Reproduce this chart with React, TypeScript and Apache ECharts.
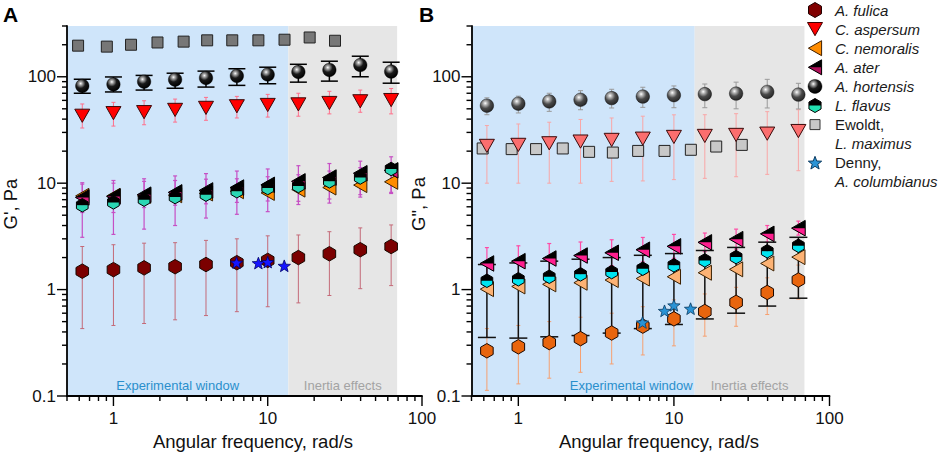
import React, { useEffect, useRef } from "react";
import * as echarts from "echarts";

const FONT = "'Liberation Sans', Arial, sans-serif";

// ---------- frequencies ----------
const FREQ = [0.628, 1, 1.58, 2.51, 3.98, 6.31, 10, 15.8, 25.1, 39.8, 63.1];
const EWOLDT_FREQ = [0.59, 0.906, 1.3, 1.93, 2.85, 4.05, 5.89, 8.7, 12.85, 18.7, 27.3];
const DENNY_FREQ = [6.28, 8.7, 10, 12.8];

// ---------- Panel A: G' ----------
const fulicaA = [1.49, 1.54, 1.6, 1.64, 1.72, 1.79, 1.88, 2.0, 2.17, 2.37, 2.54];
const fulicaA_lo = [0.43, 0.46, 0.48, 0.52, 0.57, 0.62, 0.69, 0.75, 0.88, 1.02, 1.09];
const fulicaA_hi = [2.54, 2.64, 2.73, 2.76, 2.9, 3.0, 3.2, 3.26, 3.5, 3.8, 4.05];
const aspersumA = [43, 45.5, 46.5, 48.8, 51, 52.8, 54.3, 55, 56.7, 58.8, 60.4];
const aspersumA_lo = [33, 34.4, 35.4, 37.5, 39, 41, 41.8, 42.6, 44.8, 46.4, 44.8];
const aspersumA_hi = [55.5, 57.5, 59.5, 61.7, 64, 65.4, 68.3, 70, 73, 75, 77.6];
const nemoralisA = [7.6, 7.6, 7.6, 7.7, 8.0, 8.4, 8.1, 8.7, 9.1, 9.6, 10.3];
const aterA = [7.35, 7.5, 7.8, 8.2, 8.55, 9.1, 9.65, 10.4, 11.3, 12.4, 13.2];
const aterA_lo = [5.3, 5.3, 5.9, 6.2, 6.4, 6.6, 6.8, 6.75, 7.1, 7.8, 8.2];
const aterA_hi = [10.1, 10.6, 11.0, 11.7, 12.3, 13.0, 13.6, 14.6, 15.3, 16.1, 17.7];
const flavusA = [6.2, 6.6, 7.0, 7.4, 7.8, 8.4, 9.0, 9.4, 10.4, 11.3, 13.6];
const flavusA_lo = [3.1, 3.3, 3.7, 4.0, 4.7, 5.1, 5.4, 6.3, 6.5, 7.4, 8.0];
const flavusA_hi = [9.8, 10.0, 10.4, 10.6, 10.9, 11.0, 11.5, 12.0, 13.0, 14.0, 15.0];
const hortensisA = [82, 85, 90, 94, 97.5, 102, 105, 111, 116, 129, 112];
const hortensisA_lo = [70, 72, 75, 78, 80, 83, 86, 89, 91, 100, 87];
const hortensisA_hi = [94.8, 99.6, 103, 108, 113, 119, 123, 131, 140, 156, 137];
const ewoldtA = [196, 192, 200, 210, 214, 220, 220, 220, 223, 234, 218];
const dennyA = [1.79, 1.77, 1.81, 1.67];

// ---------- Panel B: G'' ----------
const fulicaB = [0.266, 0.29, 0.318, 0.346, 0.391, 0.454, 0.531, 0.622, 0.759, 0.94, 1.23];
const fulicaB_lo = [0.113, 0.13, 0.147, 0.167, 0.2, 0.243, 0.296, 0.365, 0.452, 0.583, 0.815];
const fulicaB_hi = [0.43, 0.46, 0.5, 0.55, 0.6, 0.69, 0.8, 0.91, 1.05, 1.29, 1.7];
const aspersumB = [22.4, 22.9, 23.7, 24.6, 25.5, 26.2, 27.2, 27.8, 28.4, 29.2, 30.9];
const aspersumB_lo = [10, 10, 10, 10, 10.4, 10.5, 10.8, 11.1, 11.5, 12.1, 13.1];
const aspersumB_hi = [34.8, 36, 37.4, 39.7, 41, 42.6, 43.9, 44, 45, 47, 49];
const nemoralisB = [1.01, 1.07, 1.12, 1.16, 1.23, 1.27, 1.32, 1.44, 1.55, 1.76, 2.02];
const aterB = [1.76, 1.85, 1.96, 2.09, 2.22, 2.37, 2.55, 2.78, 2.98, 3.34, 3.78];
const aterB_lo = [1.25, 1.33, 1.42, 1.56, 1.68, 1.82, 1.97, 2.27, 2.4, 2.8, 3.25];
const aterB_hi = [2.48, 2.58, 2.71, 2.8, 2.94, 3.09, 3.3, 3.4, 3.7, 4.0, 4.4];
const flavusB = [1.21, 1.25, 1.32, 1.39, 1.46, 1.57, 1.69, 1.88, 2.02, 2.29, 2.58];
const flavusB_lo = [0.355, 0.35, 0.36, 0.37, 0.39, 0.43, 0.47, 0.53, 0.6, 0.7, 0.83];
const flavusB_hi = [1.72, 1.78, 1.85, 1.93, 2.0, 2.1, 2.18, 2.33, 2.49, 2.79, 3.1];
const hortensisB = [53.5, 55.9, 58.6, 60.8, 63, 65.2, 67.2, 68.7, 69.5, 72.1, 68];
const hortensisB_lo = [44, 45.7, 47.3, 49, 50.9, 51.6, 51.2, 51.2, 50, 50.9, 49.8];
const hortensisB_hi = [63.4, 65.7, 70, 74, 76.3, 79.7, 82, 85.5, 89, 94.6, 86.8];
const ewoldtB = [21.2, 20.9, 20.9, 21.2, 19.7, 19.4, 20.1, 20.1, 20.6, 22.1, 22.9];
const dennyB = [0.49, 0.63, 0.71, 0.66];

// ---------- axes / ticks / regions ----------
const X_RANGE = [0.5, 100];
const Y_RANGE = [0.1, 300];
const X_MAJOR = [1, 10, 100];
const X_MINOR = [0.5, 0.6, 0.7, 0.8, 0.9, 2, 3, 4, 5, 6, 7, 8, 9, 20, 30, 40, 50, 60, 70, 80, 90];
const Y_MAJOR = [0.1, 1, 10, 100];
const Y_MINOR = [0.2, 0.3, 0.4, 0.5, 0.6, 0.7, 0.8, 0.9, 2, 3, 4, 5, 6, 7, 8, 9, 20, 30, 40, 50, 60, 70, 80, 90, 200, 300];
const REGION_BOUNDS = [0.5, 13.6, 69];
const REGION_LABELS = ["Experimental window", "Inertia effects"];
const X_TITLE = "Angular frequency, rad/s";
const Y_TITLES = ["G', Pa", 'G", Pa'];
const PANEL_LETTERS = ["A", "B"];

const LEGEND = [
  { lines: [["i", "A. fulica"]], kind: "hex", size: 15, st: { fill: "#800000", stroke: "#200000" } },
  { lines: [["i", "C. aspersum"]], kind: "triDown", size: 15, st: { fill: "#ff0000", stroke: "#400000" } },
  { lines: [["i", "C. nemoralis"]], kind: "triLeft", size: 15, st: { fill: "#ff8c00", stroke: "#402000" } },
  { lines: [["i", "A. ater"]], kind: "triLeft", size: 15, st: { fill: "#000000", fill2: "#b0105a", stroke: "#000" } },
  { lines: [["i", "A. hortensis"]], kind: "sphere", size: 14, st: { fill: "black", stroke: "#000" } },
  { lines: [["i", "L. flavus"]], kind: "hex", size: 14, st: { fill: "#000000", fill2: "#22e0b0", stroke: "#000" } },
  { lines: [["n", "Ewoldt,"], ["i", "L. maximus"]], kind: "square", size: 10, st: { fill: "#c8c8c8", stroke: "#333" } },
  { lines: [["n", "Denny,"], ["i", "A. columbianus"]], kind: "star", size: 14, st: { fill: "#2a93d5", stroke: "#0a3a60" } },
];

type Sty = { fill: any; fill2?: string; stroke: string; lw?: number };

function sphereFill(tone: string) {
  const stops =
    tone === "gray"
      ? [
          { offset: 0, color: "#ffffff" },
          { offset: 0.18, color: "#bdbdbd" },
          { offset: 0.55, color: "#4a4a4a" },
          { offset: 1, color: "#262626" },
        ]
      : [
          { offset: 0, color: "#ffffff" },
          { offset: 0.15, color: "#b0b0b0" },
          { offset: 0.5, color: "#1a1a1a" },
          { offset: 1, color: "#000000" },
        ];
  return new echarts.graphic.RadialGradient(0.38, 0.32, 0.7, stops);
}

function marker(kind: string, cx: number, cy: number, s: number, st: Sty): any[] {
  const r = s / 2;
  const lw = st.lw ?? 1;
  const P = (pts: number[][]) => pts.map(([x, y]) => [cx + x, cy + y]);
  const poly = (pts: number[][], fill: any, stroke: string | null) => ({
    type: "polygon",
    shape: { points: P(pts) },
    style: { fill, stroke: stroke || "none", lineWidth: lw },
  });
  if (kind === "hex") {
    const a = r * 0.866;
    const full = [[0, -r], [a, -r / 2], [a, r / 2], [0, r], [-a, r / 2], [-a, -r / 2]];
    if (!st.fill2) return [poly(full, st.fill, st.stroke)];
    return [
      poly([[-a, 0.5], [-a, -r / 2], [0, -r], [a, -r / 2], [a, 0.5]], st.fill, null),
      poly([[-a, 0], [a, 0], [a, r / 2], [0, r], [-a, r / 2]], st.fill2, null),
      poly(full, "none", st.stroke),
    ];
  }
  if (kind === "triDown") {
    const h = s * 0.88;
    return [poly([[-r, -h / 2], [r, -h / 2], [0, h / 2]], st.fill, st.stroke)];
  }
  if (kind === "triLeft") {
    const w = s * 0.88;
    const full = [[-w / 2, 0], [w / 2, -r], [w / 2, r]];
    if (!st.fill2) return [poly(full, st.fill, st.stroke)];
    return [
      poly(full, st.fill, null),
      poly([[-w / 2, 0], [w / 2, 0], [w / 2, r]], st.fill2, null),
      poly(full, "none", st.stroke),
    ];
  }
  if (kind === "sphere") {
    return [
      {
        type: "circle",
        shape: { cx, cy, r },
        style: { fill: sphereFill(st.fill), stroke: st.stroke, lineWidth: 0.4 },
      },
    ];
  }
  if (kind === "square") {
    return [
      {
        type: "rect",
        shape: { x: cx - r, y: cy - r, width: s, height: s },
        style: { fill: st.fill, stroke: st.stroke, lineWidth: lw },
      },
    ];
  }
  // star
  const pts: number[][] = [];
  for (let k = 0; k < 10; k++) {
    const ang = -Math.PI / 2 + (k * Math.PI) / 5;
    const rr = k % 2 === 0 ? r : r * 0.42;
    pts.push([rr * Math.cos(ang), rr * Math.sin(ang) + r * 0.08]);
  }
  return [poly(pts, st.fill, st.stroke)];
}

function markerSeries(gi: number, xs: number[], ys: number[], kind: string, size: number, st: Sty, z: number) {
  return {
    type: "custom",
    xAxisIndex: gi,
    yAxisIndex: gi,
    z,
    silent: true,
    data: xs.map((x, i) => [x, ys[i]]),
    encode: { x: 0, y: 1 },
    renderItem: (_p: any, api: any) => {
      const c = api.coord([api.value(0), api.value(1)]);
      return { type: "group", children: marker(kind, c[0], c[1], size, st) };
    },
  };
}

function errSeries(gi: number, xs: number[], lo: number[], hi: number[], color: string, capW: number, lw: number, z: number) {
  return {
    type: "custom",
    xAxisIndex: gi,
    yAxisIndex: gi,
    z,
    silent: true,
    data: xs.map((x, i) => [x, lo[i], hi[i]]),
    encode: { x: 0, y: [1, 2] },
    renderItem: (_p: any, api: any) => {
      const x = api.value(0);
      const t = api.coord([x, api.value(2)]);
      const b = api.coord([x, api.value(1)]);
      const ls = { stroke: color, lineWidth: lw };
      return {
        type: "group",
        children: [
          { type: "line", shape: { x1: t[0], y1: t[1], x2: b[0], y2: b[1] }, style: ls },
          { type: "line", shape: { x1: t[0] - capW / 2, y1: t[1], x2: t[0] + capW / 2, y2: t[1] }, style: ls },
          { type: "line", shape: { x1: b[0] - capW / 2, y1: b[1], x2: b[0] + capW / 2, y2: b[1] }, style: ls },
        ],
      };
    },
  };
}

function regionSeries(gi: number, aligns: string[]) {
  return {
    type: "custom",
    xAxisIndex: gi,
    yAxisIndex: gi,
    z: 0,
    silent: true,
    data: [
      [REGION_BOUNDS[0], REGION_BOUNDS[1]],
      [REGION_BOUNDS[1], REGION_BOUNDS[2]],
    ],
    encode: { x: [0, 1] },
    renderItem: (params: any, api: any) => {
      const i = params.dataIndex;
      const tl = api.coord([api.value(0), Y_RANGE[1]]);
      const br = api.coord([api.value(1), Y_RANGE[0]]);
      const al = aligns[i];
      const tx = al === "center" ? (tl[0] + br[0]) / 2 : br[0] - 2;
      return {
        type: "group",
        children: [
          {
            type: "rect",
            shape: { x: tl[0], y: tl[1], width: br[0] - tl[0], height: br[1] - tl[1] },
            style: { fill: i === 0 ? "#cfe5fa" : "#e6e6e6" },
          },
          {
            type: "text",
            x: tx,
            y: br[1] - 4,
            style: {
              text: REGION_LABELS[i],
              fill: i === 0 ? "#2a8fcc" : "#a3a3a3",
              fontSize: 13,
              fontFamily: FONT,
              align: al,
              verticalAlign: "bottom",
            },
          },
        ],
      };
    },
  };
}

function tickSeries(gi: number, axis: string, values: number[], len: number) {
  return {
    type: "custom",
    xAxisIndex: gi,
    yAxisIndex: gi,
    z: 5,
    silent: true,
    clip: false,
    data: values.map((v) => (axis === "x" ? [v, Y_RANGE[0]] : [X_RANGE[0], v])),
    encode: { x: 0, y: 1 },
    renderItem: (_p: any, api: any) => {
      const p = api.coord([api.value(0), api.value(1)]);
      const shape =
        axis === "x"
          ? { x1: p[0], y1: p[1], x2: p[0], y2: p[1] + len }
          : { x1: p[0] - len, y1: p[1], x2: p[0], y2: p[1] };
      return { type: "line", shape, style: { stroke: "#000", lineWidth: 1.4 } };
    },
  };
}

function panelSeries(gi: number, d: any) {
  return [
    regionSeries(gi, d.aligns),
    tickSeries(gi, "x", X_MAJOR, 10),
    tickSeries(gi, "x", X_MINOR, 5),
    tickSeries(gi, "y", Y_MAJOR, 10),
    tickSeries(gi, "y", Y_MINOR, 5),
    errSeries(gi, FREQ, d.fulica_lo, d.fulica_hi, d.c.fulicaBar, 4, 1, 2),
    errSeries(gi, FREQ, d.aspersum_lo, d.aspersum_hi, d.c.aspersumBar, 4, 1, 2),
    errSeries(gi, FREQ, d.ater_lo, d.ater_hi, d.c.aterBar, d.c.aterCap, 1.2, 2),
    errSeries(gi, FREQ, d.flavus_lo, d.flavus_hi, d.c.flavusBar, d.c.flavusCap, d.c.flavusLw, 2),
    errSeries(gi, FREQ, d.hortensis_lo, d.hortensis_hi, d.c.hortensisBar, d.c.hortensisCap, d.c.hortensisLw, 2),
    markerSeries(gi, EWOLDT_FREQ, d.ewoldt, "square", 11, { fill: d.c.ewoldt, stroke: "#222" }, 3),
    markerSeries(gi, FREQ, d.fulica, "hex", 14.5, { fill: d.c.fulica, stroke: "#1a0800" }, 3),
    markerSeries(gi, FREQ, d.aspersum, "triDown", 15, { fill: d.c.aspersum, stroke: "#3a0a0a" }, 3),
    markerSeries(gi, FREQ, d.nemoralis, "triLeft", 15, { fill: d.c.nemoralis, stroke: "#3a2000" }, 3),
    markerSeries(gi, FREQ, d.ater, "triLeft", 15.5, { fill: "#000", fill2: d.c.ater2, stroke: "#000" }, 3),
    markerSeries(gi, FREQ, d.flavus, "hex", 13.5, { fill: "#000", fill2: d.c.flavus2, stroke: "#000" }, 3),
    markerSeries(gi, FREQ, d.hortensis, "sphere", 13.5, { fill: d.c.sphere, stroke: "#000" }, 3),
    markerSeries(gi, DENNY_FREQ, d.denny, "star", 13, { fill: d.c.denny, stroke: d.c.dennyStroke, lw: 0.8 }, 4),
  ];
}

const PANEL_A = {
  aligns: ["center", "center"],
  fulica: fulicaA, fulica_lo: fulicaA_lo, fulica_hi: fulicaA_hi,
  aspersum: aspersumA, aspersum_lo: aspersumA_lo, aspersum_hi: aspersumA_hi,
  nemoralis: nemoralisA,
  ater: aterA, ater_lo: aterA_lo, ater_hi: aterA_hi,
  flavus: flavusA, flavus_lo: flavusA_lo, flavus_hi: flavusA_hi,
  hortensis: hortensisA, hortensis_lo: hortensisA_lo, hortensis_hi: hortensisA_hi,
  ewoldt: ewoldtA, denny: dennyA,
  c: {
    fulica: "#7b0000", fulicaBar: "#c46a78",
    aspersum: "#ff0000", aspersumBar: "#ff6f8a",
    nemoralis: "#ff8c00",
    ater2: "#d81b7a", aterBar: "#c64fc4", aterCap: 4,
    flavus2: "#2ad6b4", flavusBar: "#c64fc4", flavusCap: 4, flavusLw: 1.2,
    sphere: "black", hortensisBar: "#000", hortensisCap: 17, hortensisLw: 1.5,
    ewoldt: "#777777", denny: "#1515ff", dennyStroke: "#000066",
  },
};

const PANEL_B = {
  aligns: ["right", "center"],
  fulica: fulicaB, fulica_lo: fulicaB_lo, fulica_hi: fulicaB_hi,
  aspersum: aspersumB, aspersum_lo: aspersumB_lo, aspersum_hi: aspersumB_hi,
  nemoralis: nemoralisB,
  ater: aterB, ater_lo: aterB_lo, ater_hi: aterB_hi,
  flavus: flavusB, flavus_lo: flavusB_lo, flavus_hi: flavusB_hi,
  hortensis: hortensisB, hortensis_lo: hortensisB_lo, hortensis_hi: hortensisB_hi,
  ewoldt: ewoldtB, denny: dennyB,
  c: {
    fulica: "#e8650e", fulicaBar: "#f6a070",
    aspersum: "#fb6e6e", aspersumBar: "#f9a6a6",
    nemoralis: "#fcb274",
    ater2: "#ff1f8f", aterBar: "#ff4aa5", aterCap: 4,
    flavus2: "#00e5f0", flavusBar: "#111111", flavusCap: 18, flavusLw: 1.5,
    sphere: "gray", hortensisBar: "#9a9a9a", hortensisCap: 5, hortensisLw: 1,
    ewoldt: "#c8c8c8", denny: "#2a93d5", dennyStroke: "#0a3a60",
  },
};

function xAxisOpt(gi: number) {
  return {
    type: "log",
    gridIndex: gi,
    min: X_RANGE[0],
    max: X_RANGE[1],
    logBase: 10,
    axisLine: { show: true, lineStyle: { color: "#000", width: 1.8 } },
    axisTick: { show: false },
    splitLine: { show: false },
    axisLabel: {
      color: "#111",
      fontSize: 17,
      fontFamily: FONT,
      margin: 14,
      formatter: (v: number) => (X_MAJOR.some((m) => Math.abs(m - v) / m < 1e-6) ? String(Number(v.toPrecision(3))) : ""),
    },
    name: X_TITLE,
    nameLocation: "middle",
    nameGap: 36,
    nameTextStyle: { color: "#111", fontSize: 18.5, fontFamily: FONT, padding: [0, 0, 0, 17] },
  };
}

function yAxisOpt(gi: number, gap: number) {
  return {
    type: "log",
    gridIndex: gi,
    min: Y_RANGE[0],
    max: Y_RANGE[1],
    logBase: 10,
    axisLine: { show: true, lineStyle: { color: "#000", width: 1.8 } },
    axisTick: { show: false },
    splitLine: { show: false },
    axisLabel: {
      color: "#111",
      fontSize: 17,
      fontFamily: FONT,
      margin: 11,
      formatter: (v: number) => (Y_MAJOR.some((m) => Math.abs(m - v) / m < 1e-6) ? String(Number(v.toPrecision(3))) : ""),
    },
    name: Y_TITLES[gi],
    nameLocation: "middle",
    nameGap: gap,
    nameTextStyle: { color: "#111", fontSize: 18.5, fontFamily: FONT, padding: [0, 0, 0, 14] },
  };
}

function legendGraphic() {
  const children: any[] = [];
  let row = 0;
  const x0 = 815;
  const y0 = 10;
  const step = 19.1;
  LEGEND.forEach((e) => {
    const cy = y0 + row * step;
    children.push(...marker(e.kind, x0, cy, e.size, e.st as Sty));
    e.lines.forEach((ln, j) => {
      children.push({
        type: "text",
        x: 835,
        y: cy + j * step,
        style: {
          text: ln[1],
          fill: "#1a1a1a",
          fontSize: 15,
          fontFamily: FONT,
          fontStyle: ln[0] === "i" ? "italic" : "normal",
          verticalAlign: "middle",
          align: "left",
        },
      });
    });
    row += e.lines.length;
  });
  return { type: "group", children };
}

export default function App() {
  const ref = useRef<HTMLDivElement>(null);
  useEffect(() => {
    document.body.style.margin = "0";
    if (!ref.current) return;
    const chart = echarts.init(ref.current, undefined, { renderer: "svg" });
    chart.setOption({
      animation: false,
      backgroundColor: "#ffffff",
      grid: [
        { left: 65.5, top: 26, width: 356.5, height: 374 },
        { left: 471.5, top: 26, width: 358, height: 374 },
      ],
      xAxis: [xAxisOpt(0), xAxisOpt(1)],
      yAxis: [yAxisOpt(0, 47), yAxisOpt(1, 34)],
      graphic: [
        legendGraphic(),
        {
          type: "text",
          x: 3,
          y: 4,
          style: { text: PANEL_LETTERS[0], fill: "#000", fontSize: 21, fontWeight: "bold", fontFamily: FONT },
        },
        {
          type: "text",
          x: 419,
          y: 4,
          style: { text: PANEL_LETTERS[1], fill: "#000", fontSize: 21, fontWeight: "bold", fontFamily: FONT },
        },
      ],
      series: [...panelSeries(0, PANEL_A), ...panelSeries(1, PANEL_B)],
    });
    return () => chart.dispose();
  }, []);
  return <div ref={ref} style={{ width: 941, height: 456 }} />;
}
